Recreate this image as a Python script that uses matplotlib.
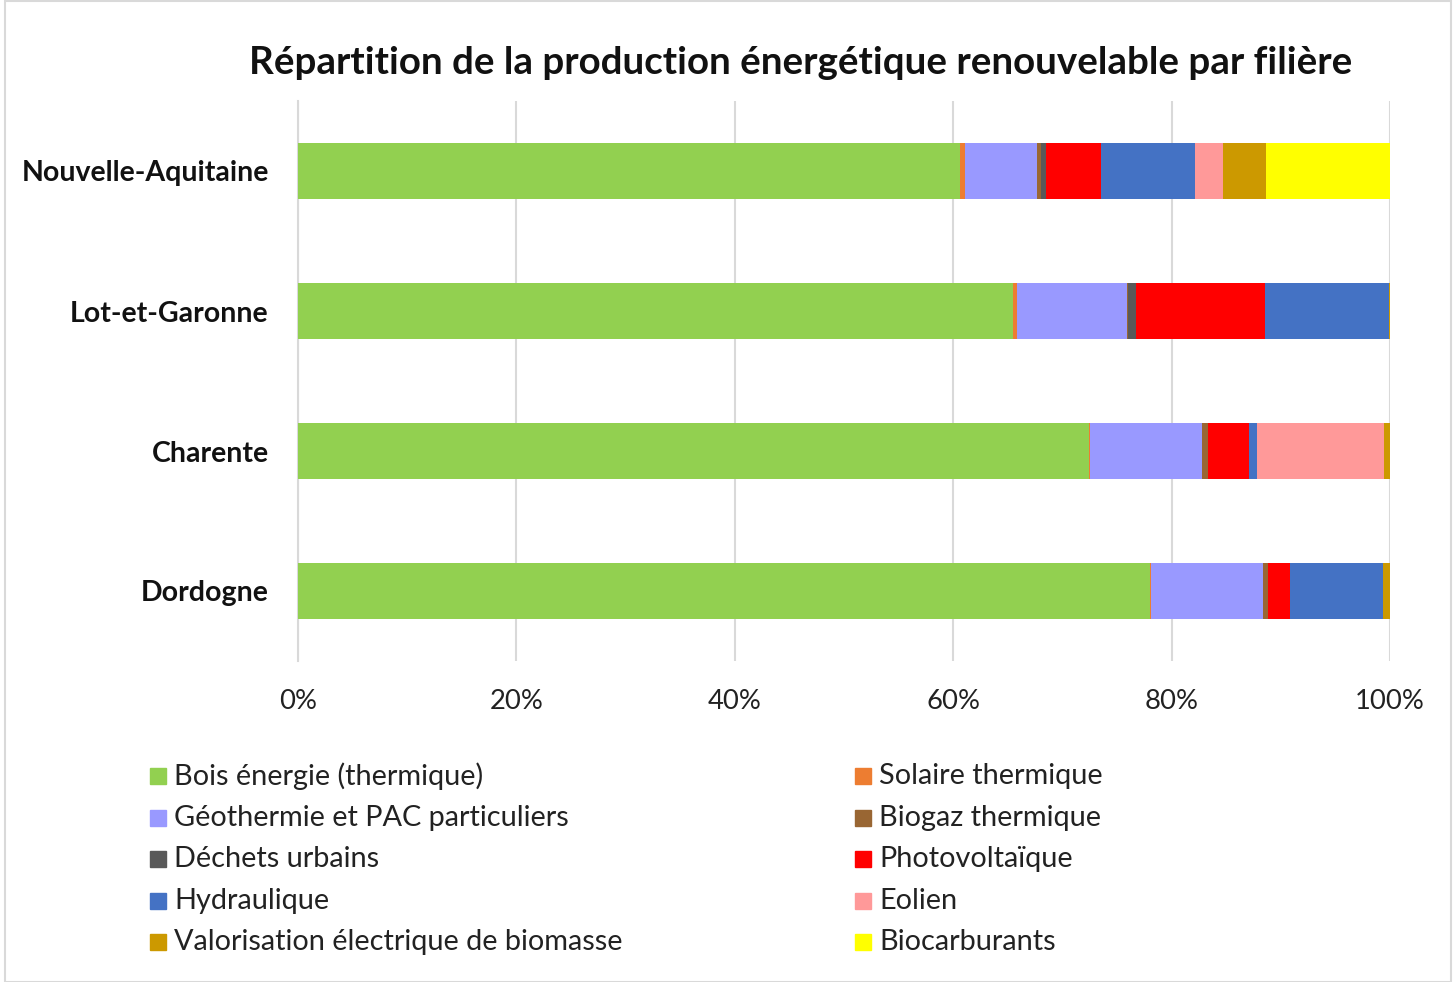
import numpy as np
import matplotlib.pyplot as plt
from matplotlib.patches import Rectangle

plt.rcParams['font.family'] = ['Lato', 'DejaVu Sans']

territoires = ["Nouvelle-Aquitaine", "Lot-et-Garonne", "Charente", "Dordogne"]
filieres = ["Bois énergie (thermique)", "Solaire thermique", "Géothermie et PAC particuliers",
            "Biogaz thermique", "Déchets urbains", "Photovoltaïque", "Hydraulique", "Eolien",
            "Valorisation électrique de biomasse", "Biocarburants"]
couleurs = ["#92D050", "#ED7D31", "#9999FF", "#996633", "#595959", "#FF0000",
            "#4472C4", "#FF9999", "#CC9900", "#FFFF00"]

# parts en % par territoire (ordre des filieres)
nouvelle_aquitaine = [60.6, 0.45, 6.65, 0.34, 0.43, 5.06, 8.57, 2.6, 3.9, 11.4]
lot_et_garonne = [65.5, 0.37, 10.05, 0.1, 0.7, 11.8, 11.43, 0.0, 0.05, 0.0]
charente = [72.44, 0.05, 10.3, 0.55, 0.0, 3.73, 0.79, 11.6, 0.54, 0.0]
dordogne = [78.05, 0.1, 10.25, 0.43, 0.0, 2.04, 8.46, 0.0, 0.67, 0.0]

data = np.array([nouvelle_aquitaine, lot_et_garonne, charente, dordogne])
data = data / data.sum(axis=1, keepdims=True)

W, H = 1453, 982
fig = plt.figure(figsize=(W / 100, H / 100), dpi=100)
ax = fig.add_axes([298 / W, 1 - 661 / H, (1390 - 298) / W, (661 - 101) / H])

y = np.arange(len(territoires))
gauche = np.zeros(len(territoires))
for i, f in enumerate(filieres):
    ax.barh(y, data[:, i], left=gauche, height=0.4, color=couleurs[i], zorder=3)
    gauche += data[:, i]

ax.set_xlim(0, 1)
ax.set_ylim(3.5, -0.5)
ax.set_xticks(np.arange(0, 1.01, 0.2))
ax.set_xticklabels([f"{int(v*100)}%" for v in np.arange(0, 1.01, 0.2)], fontsize=19.7, color="#222222")
ax.set_yticks(y)
ax.set_yticklabels(territoires, fontsize=20.5, fontweight="bold", color="#111111")
ax.tick_params(axis="x", length=0, pad=20)
ax.tick_params(axis="y", length=0, pad=21)
ax.grid(axis="x", color="#D9D9D9", linewidth=1.5, zorder=0)
for s in ["top", "right", "bottom"]:
    ax.spines[s].set_visible(False)
ax.spines["left"].set_color("#D9D9D9")
ax.spines["left"].set_linewidth(1.5)

fig.text(801 / W, 1 - 63 / H, "Répartition de la production énergétique renouvelable par filière",
         ha="center", va="center", fontsize=27.7, fontweight="bold", color="#111111")

# legende en deux colonnes, remplie ligne par ligne
for i, f in enumerate(filieres):
    col, row = i % 2, i // 2
    xm = [150, 855][col]
    ym = 776 + row * 41.6
    fig.add_artist(Rectangle((xm / W, 1 - (ym + 8) / H), 16 / W, 16 / H,
                             transform=fig.transFigure, color=couleurs[i]))
    fig.text((xm + 24) / W, 1 - ym / H, f, ha="left", va="center", fontsize=20.8, color="#222222")

# cadre
fig.add_artist(Rectangle((5 / W, 0), (1451 - 5) / W, 1 - 1 / H, transform=fig.transFigure,
                         fill=False, edgecolor="#D9D9D9", linewidth=1.5))

fig.savefig("out.png", dpi=100)
